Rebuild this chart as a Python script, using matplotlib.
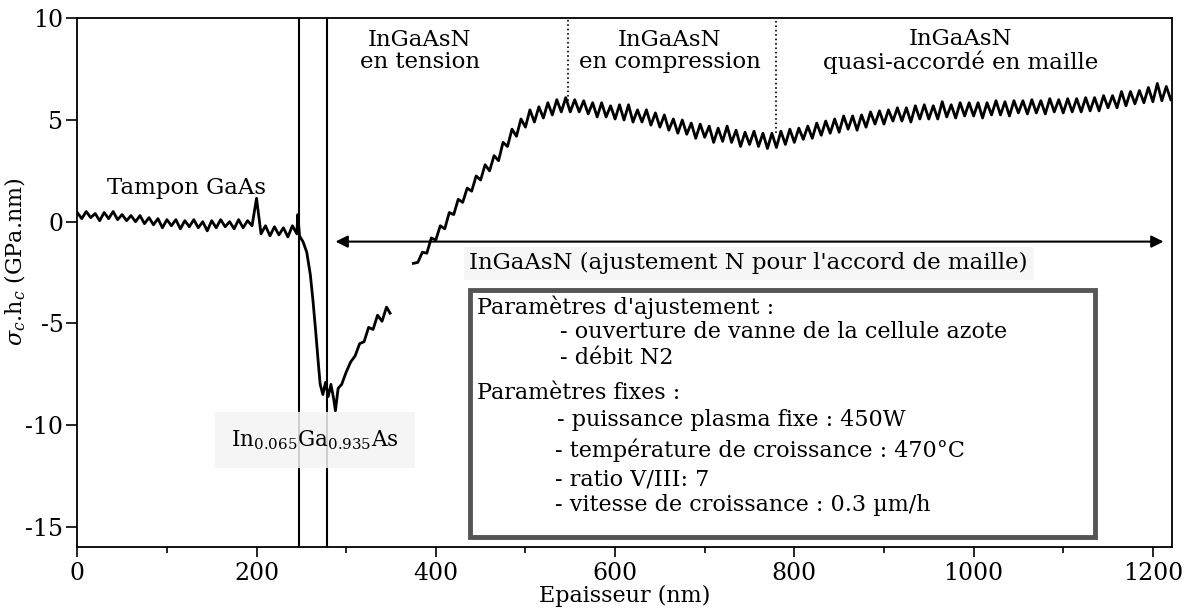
import matplotlib
matplotlib.use('agg')
import matplotlib.pyplot as plt
from matplotlib.patches import Rectangle
import numpy as np

plt.rcParams['font.family'] = ['DejaVu Serif']
plt.rcParams['axes.unicode_minus'] = False
plt.rcParams['mathtext.fontset'] = 'dejavuserif'

# GaAs buffer (every 5 nm from 0 nm)
y_buffer = [0.45, 0.15, 0.5, 0.2, 0.4, 0.05, 0.45, 0.15, 0.5, 0.1,
            0.35, 0.05, 0.3, 0.0, 0.3, -0.1, 0.2, -0.15, 0.15, -0.3,
            0.1, -0.2, 0.1, -0.35, 0.05, -0.25, 0.1, -0.3, 0.0, -0.45,
            0.05, -0.3, 0.1, -0.25, 0.0, -0.35, 0.1, -0.3, 0.05, -0.2,
            1.15, -0.6, -0.2, -0.7, -0.25, -0.65, -0.3, -0.75, -0.2, -0.6]
x_buffer = np.arange(0, 5 * len(y_buffer), 5)

# In0.065Ga0.935As layer
x_ingaas = [246, 248, 252, 256, 260, 263, 266, 269, 271, 274, 277, 280, 283, 286,
            288, 291, 295, 300, 305, 310, 315, 320, 325, 330, 335, 340, 345, 349]
y_ingaas = [0.35, -0.7, -1.0, -1.5, -2.6, -3.9, -5.4, -7.0, -8.0, -8.5, -7.9, -8.6, -8.0, -8.7,
            -9.3, -8.2, -8.0, -7.4, -6.9, -6.6, -6.0, -5.9, -5.2, -5.3, -4.6, -4.9, -4.2, -4.5]

# InGaAsN (every 5 nm from 375 nm)
y_ingaasn = [-2.05, -2.0, -1.5, -1.55, -0.8, -0.9, -0.2, -0.35, 0.45, 0.35,
             1.1, 0.95, 1.65, 1.5, 2.25, 2.05, 2.8, 2.5, 3.25, 3.0,
             3.9, 3.7, 4.55, 4.2, 5.05, 4.65, 5.5, 4.9, 5.65, 5.1,
             5.85, 5.25, 6.0, 5.4, 6.1, 5.4, 6.0, 5.4, 5.95, 5.3,
             5.85, 5.15, 5.85, 5.15, 5.7, 5.05, 5.75, 5.0, 5.75, 4.9,
             5.5, 4.9, 5.5, 4.75, 5.35, 4.65, 5.25, 4.5, 5.05, 4.35,
             5.0, 4.3, 4.85, 4.1, 4.8, 4.15, 4.7, 3.9, 4.6, 3.95,
             4.7, 3.9, 4.5, 3.7, 4.4, 3.8, 4.45, 3.7, 4.35, 3.6,
             4.35, 3.65, 4.45, 3.8, 4.55, 3.9, 4.6, 4.05, 4.7, 4.1,
             4.85, 4.25, 4.95, 4.35, 5.05, 4.4, 5.2, 4.55, 5.2, 4.5,
             5.25, 4.65, 5.4, 4.8, 5.45, 4.8, 5.5, 4.95, 5.6, 4.95,
             5.6, 4.9, 5.7, 5.05, 5.75, 5.05, 5.7, 5.05, 5.9, 5.15,
             5.75, 5.1, 5.85, 5.2, 5.85, 5.2, 5.85, 5.1, 5.85, 5.25,
             5.95, 5.25, 5.9, 5.2, 5.95, 5.35, 5.95, 5.3, 6.0, 5.35,
             5.95, 5.3, 6.05, 5.4, 6.0, 5.35, 6.05, 5.4, 6.05, 5.4,
             6.1, 5.45, 6.1, 5.45, 6.2, 5.6, 6.2, 5.6, 6.4, 5.7,
             6.4, 5.8, 6.45, 5.85, 6.6, 5.9, 6.8, 5.95, 6.65, 6.0]
x_ingaasn = np.arange(375, 375 + 5 * len(y_ingaasn), 5)

layer_edges = [247.4, 278.7]
regime_edges = [548, 779]
regime_tops = [5.95, 4.35]

region_labels = ['InGaAsN\nen tension', 'InGaAsN\nen compression', 'InGaAsN\nquasi-accordé en maille']
region_x = [382, 661, 985]

box_lines = ["Paramètres d'ajustement :",
             "- ouverture de vanne de la cellule azote",
             "- débit N2",
             "Paramètres fixes :",
             "- puissance plasma fixe : 450W",
             "- température de croissance : 470°C",
             "- ratio V/III: 7",
             "- vitesse de croissance : 0.3 µm/h"]
box_x = [446, 539, 539, 446, 535, 533, 533, 533]
box_y = [-4.2, -5.43, -6.7, -8.44, -9.76, -11.24, -12.7, -13.94]

fig = plt.figure(figsize=(11.87, 6.12), dpi=100)
ax = fig.add_axes([0.0651, 0.1062, 0.922, 0.8638])

ax.plot(np.concatenate([x_buffer, x_ingaas]), np.concatenate([y_buffer, y_ingaas]),
        color='black', lw=2.0, zorder=3)
ax.plot(x_ingaasn, y_ingaasn, color='black', lw=2.0, zorder=3)

for xe in layer_edges:
    ax.axvline(xe, color='black', lw=1.5, zorder=2)
ax.vlines(regime_edges, regime_tops, 10, colors='black', linestyles=':', lw=1.2, zorder=2)

ax.annotate('', xy=(1215, -0.98), xytext=(285, -0.98),
            arrowprops=dict(arrowstyle='<|-|>', color='black', lw=1.5, mutation_scale=18))

for lab, xr in zip(region_labels, region_x):
    ax.text(xr, 8.4, lab, ha='center', va='center', fontsize=16.5, linespacing=1.0)

ax.text(122, 1.65, 'Tampon GaAs', ha='center', va='center', fontsize=16.5)
ax.text(749, -2.05, "InGaAsN (ajustement N pour l'accord de maille)", ha='center', va='center',
        fontsize=16.5, zorder=4,
        bbox=dict(boxstyle='square,pad=0.25', fc='#f6f6f6', ec='none'))
ax.text(265, -10.75, r'In$_{0.065}$Ga$_{0.935}$As', ha='center', va='center', fontsize=15.5,
        zorder=4, bbox=dict(boxstyle='square,pad=0.75', fc='#f4f4f4', ec='none', alpha=0.85))

ax.add_patch(Rectangle((438, -15.5), 698, 12.14, fill=False, ec='#555555', lw=3.5, zorder=4))
for t, bx, by in zip(box_lines, box_x, box_y):
    ax.text(bx, by, t, ha='left', va='center', fontsize=16, zorder=5)

ax.set_xlim(0, 1221)
ax.set_ylim(-16, 10)
ax.set_xticks(np.arange(0, 1201, 200))
ax.set_xticks(np.arange(100, 1201, 200), minor=True)
ax.set_yticks([-15, -10, -5, 0, 5, 10])
ax.tick_params(axis='both', which='major', labelsize=17, direction='out', width=1.2)
ax.tick_params(axis='x', which='major', length=7)
ax.tick_params(axis='y', which='major', length=8, pad=2)
ax.tick_params(axis='x', which='minor', length=4, width=1.2)
for s in ax.spines.values():
    s.set_linewidth(1.3)

ax.set_xlabel('Epaisseur (nm)', fontsize=16, labelpad=0)
ax.set_ylabel(r'$\sigma_c$.h$_c$ (GPa.nm)', fontsize=16)
ax.yaxis.set_label_coords(-0.045, 0.54)

fig.savefig('out.png', dpi=100)
